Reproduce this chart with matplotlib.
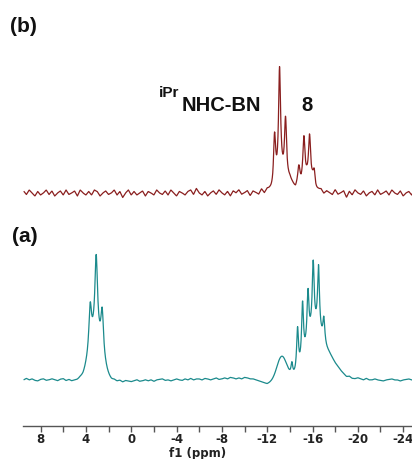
import numpy as np
import matplotlib
matplotlib.use("Agg")
import matplotlib.pyplot as plt
from matplotlib.ticker import MultipleLocator

# peak lists (ppm, height in px above baseline, FWHM in ppm)
a_sharp_pos = [3.62, 3.09, 2.56, -14.18, -14.68, -15.12, -15.60, -16.06, -16.53, -17.00]
a_sharp_h = [44, 80, 44, 12, 44, 58, 50, 66, 64, 24]
a_sharp_w = [0.28, 0.28, 0.28, 0.18, 0.2, 0.2, 0.2, 0.2, 0.2, 0.2]
a_broad_pos = [3.15, -13.30, -16.10, -17.40]
a_broad_h = [40, 23, 44, 20]
a_broad_w = [1.3, 1.0, 1.6, 1.8]

b_sharp_pos = [-12.65, -13.09, -13.62, -14.80, -15.24, -15.74, -16.15]
b_sharp_h = [50, 112, 60, 15, 44, 48, 16]
b_sharp_w = [0.22, 0.22, 0.22, 0.22, 0.22, 0.22, 0.22]
b_broad_pos = [-13.55, -15.45]
b_broad_h = [12, 10]
b_broad_w = [1.4, 1.4]

# baseline wiggles, one value every 0.25 ppm from 9.5 to -25
noise_ppm = np.arange(9.5, -25.01, -0.25)
a_noise = [0, 1.5, 0, 1, -0.5, -1, 0.5, 1, -0.5, 0, 1,
           0, -1, 0.5, 1, -1, 0, -1.5, -1,
           -1, 0, -1, 0, 0, 0, 0, 0, 0, 0, 0, -1, -2, -1,
           -2, -1, -2.5, -1, -1.5, -2, -1, 0, -1.5, -1, 0, -1,
           0, -1.5, 0, 0.5, 1, -0.5, 0, -1, 0, 1, 0, -0.5, 1, 0, 1.5, 0, 1, 1,
           0, 1.5, 1, 0, 1, 2, 0.5, 1, 2, 1, 2.5, 2, 1, 2, 1, 2.5, 2, 1,
           1, 0, -1, -2, -3, -4, -3, -2,
           -1, 0, 0, 0, 0, 0, 0, 0, 0, 0, 0, 0, 0, 0, 0, 0, 0, 0, 0, 1, 1, 1, 2, 2,
           2, 1, 2.5, 1, 1, 2, 1, 0, 1.5, 0, 0, 1, 0, -0.5, -1, 0, 0.5, 1, 0, 0, -1, 0, 0.5, 1, 0, 0]
b_noise = [2, -1.5, 3, 0, -3, 1.5, -2, 0, 3, -1.5, 2, -3, 0, 2, -2, 3, -1.5, 0, 2, -3,
           3, 0, -2, 1.5, -2, 3, 1.5, -3, 0, 2, -1.5, 0, 3, -2, 1.5, -4.5, 0, 3, -2, 1.5,
           -2, 0, 2, -3, 1.5, 0, -2, 3, 0, -1.5, 2, -2, 3, 0, -3, 1.5, 0, -2, 1.5, 3,
           -1.5, 4.5, 0, -2, 1.5, -3, 0, 2, -1.5, 3, 0, -2, 1.5, -3, 2, 0, 3, -1.5, 0, 2,
           -3, 1.5, 0, -2, 3, -1.5, 2, 0, -3, 1.5, -2, 3, 0, -1.5, 2, 0, -3, 3, -2, 0,
           2, -1.5, 3, -3, 0, 2, -1.5, 1.5, 0, -2, 3, -1.5, 0, 2, -4.5, 1.5, -2, 3, 0, -1.5,
           2, -3, 0, 1.5, -2, 3, -1.5, 0, 2, -2, 3, 0, -1.5, 2, -3, 0, 1.5, -2, 3]

tick_vals = [8, 4, 0, -4, -8, -12, -16, -20, -24]


def lorentz(x, pos, h, w):
    y = np.zeros_like(x)
    for p, hh, ww in zip(pos, h, w):
        y += hh / (1 + ((x - p) / (ww / 2)) ** 2)
    return y


def gauss(x, pos, h, w):
    y = np.zeros_like(x)
    for p, hh, ww in zip(pos, h, w):
        s = ww / 2.3548
        y += hh * np.exp(-(x - p) ** 2 / (2 * s ** 2))
    return y


ppm = np.arange(9.45, -24.85, -0.02)
a_line = 46 + lorentz(ppm, a_sharp_pos, a_sharp_h, a_sharp_w) \
    + gauss(ppm, a_broad_pos, a_broad_h, a_broad_w) \
    + np.interp(-ppm, -noise_ppm, a_noise)
b_line = 233 + lorentz(ppm, b_sharp_pos, b_sharp_h, b_sharp_w) \
    + gauss(ppm, b_broad_pos, b_broad_h, b_broad_w) \
    + np.interp(-ppm, -noise_ppm, b_noise)

W, H = 412, 459
fig = plt.figure(figsize=(W / 100, H / 100), dpi=100)
ax = fig.add_axes([23 / W, 33 / H, 389 / W, 426 / H])
ax.plot(ppm, a_line, color='#1b8a8c', lw=0.9)
ax.plot(ppm, b_line, color='#8a1f1f', lw=0.9)
ax.set_xlim(9.55, -24.78)
ax.set_ylim(0, 426)

for s in ['top', 'left', 'right']:
    ax.spines[s].set_visible(False)
ax.spines['bottom'].set_color('#555555')
ax.spines['bottom'].set_linewidth(1.0)
ax.set_yticks([])
ax.set_xticks(tick_vals)
ax.set_xticklabels([str(t) for t in tick_vals])
ax.xaxis.set_minor_locator(MultipleLocator(2))
ax.tick_params(axis='x', which='both', direction='out', length=4, width=1,
               color='#555555', labelsize=8.5, pad=1)
for lab in ax.get_xticklabels():
    lab.set_fontweight('bold')
    lab.set_color('#222222')

fig.text(198 / W, 1 - 453 / H, 'f1 (ppm)', ha='center', va='center',
         fontsize=8.5, fontweight='bold', color='#222222')

lab_font = dict(family='Liberation Sans', fontweight='bold', color='#111111')
fig.text(10 / W, 1 - 27 / H, '(b)', ha='left', va='center', fontsize=15, **lab_font)
fig.text(12 / W, 1 - 236 / H, '(a)', ha='left', va='center', fontsize=15, **lab_font)
fig.text(159 / W, 1 - 97 / H, 'iPr', ha='left', va='baseline', fontsize=11, **lab_font)
fig.text(182 / W, 1 - 111 / H, 'NHC-BN', ha='left', va='baseline', fontsize=14.5, **lab_font)
fig.text(301 / W, 1 - 111 / H, '8', ha='left', va='baseline', fontsize=14.5, **lab_font)

fig.savefig('out.png', dpi=100)
